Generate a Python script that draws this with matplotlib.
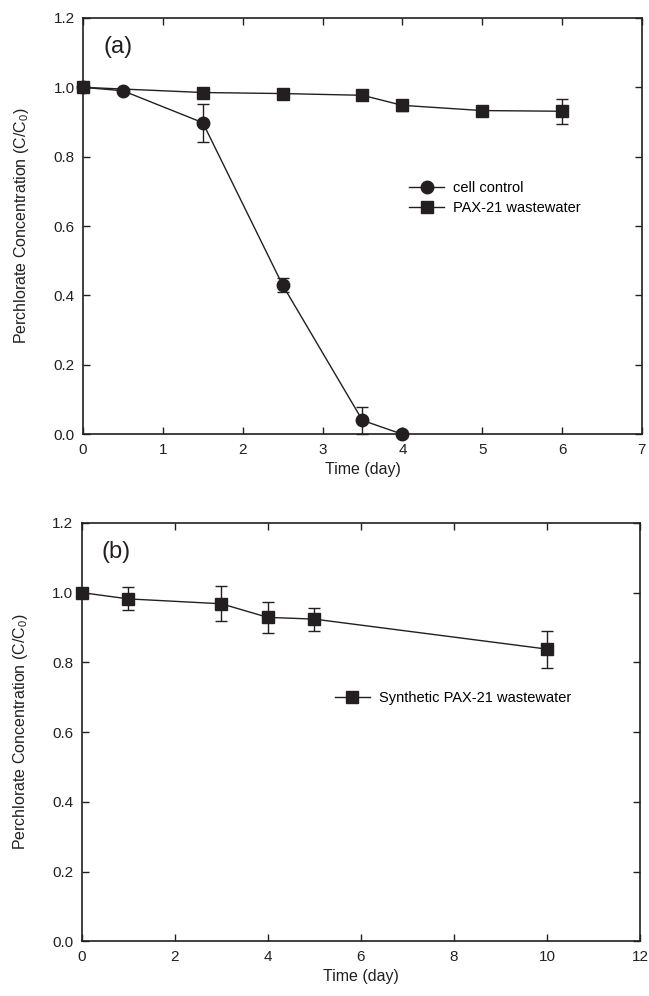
import matplotlib
matplotlib.use("Agg")
import matplotlib.pyplot as plt

plt.rcParams['font.family'] = ['Liberation Sans', 'DejaVu Sans']
plt.rcParams['mathtext.fontset'] = 'custom'
plt.rcParams['mathtext.rm'] = 'Liberation Sans'
plt.rcParams['mathtext.it'] = 'Liberation Sans'

# panel (a)
t_cell = [0, 0.5, 1.5, 2.5, 3.5, 4]
c_cell = [1.0, 0.99, 0.898, 0.43, 0.04, 0.0]
e_cell = [0.0, 0.005, 0.055, 0.02, 0.038, 0.0]

t_pax = [0, 1.5, 2.5, 3.5, 4, 5, 6]
c_pax = [1.0, 0.985, 0.982, 0.977, 0.948, 0.933, 0.931]
e_pax = [0.0, 0.0, 0.0, 0.0, 0.015, 0.0, 0.036]

# panel (b)
t_syn = [0, 1, 3, 4, 5, 10]
c_syn = [1.0, 0.982, 0.968, 0.929, 0.924, 0.838]
e_syn = [0.0, 0.033, 0.05, 0.045, 0.033, 0.053]

col = '#231f20'
ylab = 'Perchlorate Concentration (C/C$_0$)'

fig = plt.figure(figsize=(6.49, 9.96), dpi=100)
ax1 = fig.add_axes([0.128, 0.564, 0.861, 0.418])
ax2 = fig.add_axes([0.126, 0.055, 0.860, 0.420])


def style(ax, xmax, xstep):
    ax.set_ylim(0, 1.2)
    ax.set_xlim(0, xmax)
    ax.set_xticks(range(0, xmax + 1, xstep))
    ax.set_yticks([0, 0.2, 0.4, 0.6, 0.8, 1.0, 1.2])
    ax.set_yticklabels(['0.0', '0.2', '0.4', '0.6', '0.8', '1.0', '1.2'])
    ax.tick_params(direction='in', top=True, right=True, length=5,
                   width=1.0, color=col, labelsize=11, labelcolor=col, pad=6)
    for s in ax.spines.values():
        s.set_linewidth(1.2)
        s.set_color(col)
    ax.set_xlabel('Time (day)', fontsize=11.5, color=col, labelpad=4)
    ax.set_ylabel(ylab, fontsize=11.5, color=col, labelpad=16)


def draw(ax, t, c, e, marker, ms, label):
    ax.errorbar(t, c, yerr=e, fmt='none', ecolor=col, elinewidth=1.0,
                capsize=4.5, capthick=1.0, clip_on=False)
    line, = ax.plot(t, c, color=col, lw=1.0, marker=marker, ms=ms,
                    label=label, clip_on=False, zorder=3)
    return line


h1 = draw(ax1, t_cell, c_cell, e_cell, 'o', 9, 'cell control')
h2 = draw(ax1, t_pax, c_pax, e_pax, 's', 8, 'PAX-21 wastewater')
style(ax1, 7, 1)
ax1.text(0.036, 0.93, '(a)', transform=ax1.transAxes, fontsize=17, color=col, va='center')
ax1.legend(handles=[h1, h2], loc='upper left', bbox_to_anchor=(0.56, 0.64), frameon=False,
           fontsize=10.5, numpoints=1, handlelength=2.4, handletextpad=0.6, labelspacing=0.4)

h3 = draw(ax2, t_syn, c_syn, e_syn, 's', 8, 'Synthetic PAX-21 wastewater')
style(ax2, 12, 2)
ax2.text(0.036, 0.93, '(b)', transform=ax2.transAxes, fontsize=17, color=col, va='center')
ax2.legend(handles=[h3], loc='upper left', bbox_to_anchor=(0.43, 0.63), frameon=False,
           fontsize=10.5, numpoints=1, handlelength=2.4, handletextpad=0.6)

fig.savefig('out.png', dpi=100)
